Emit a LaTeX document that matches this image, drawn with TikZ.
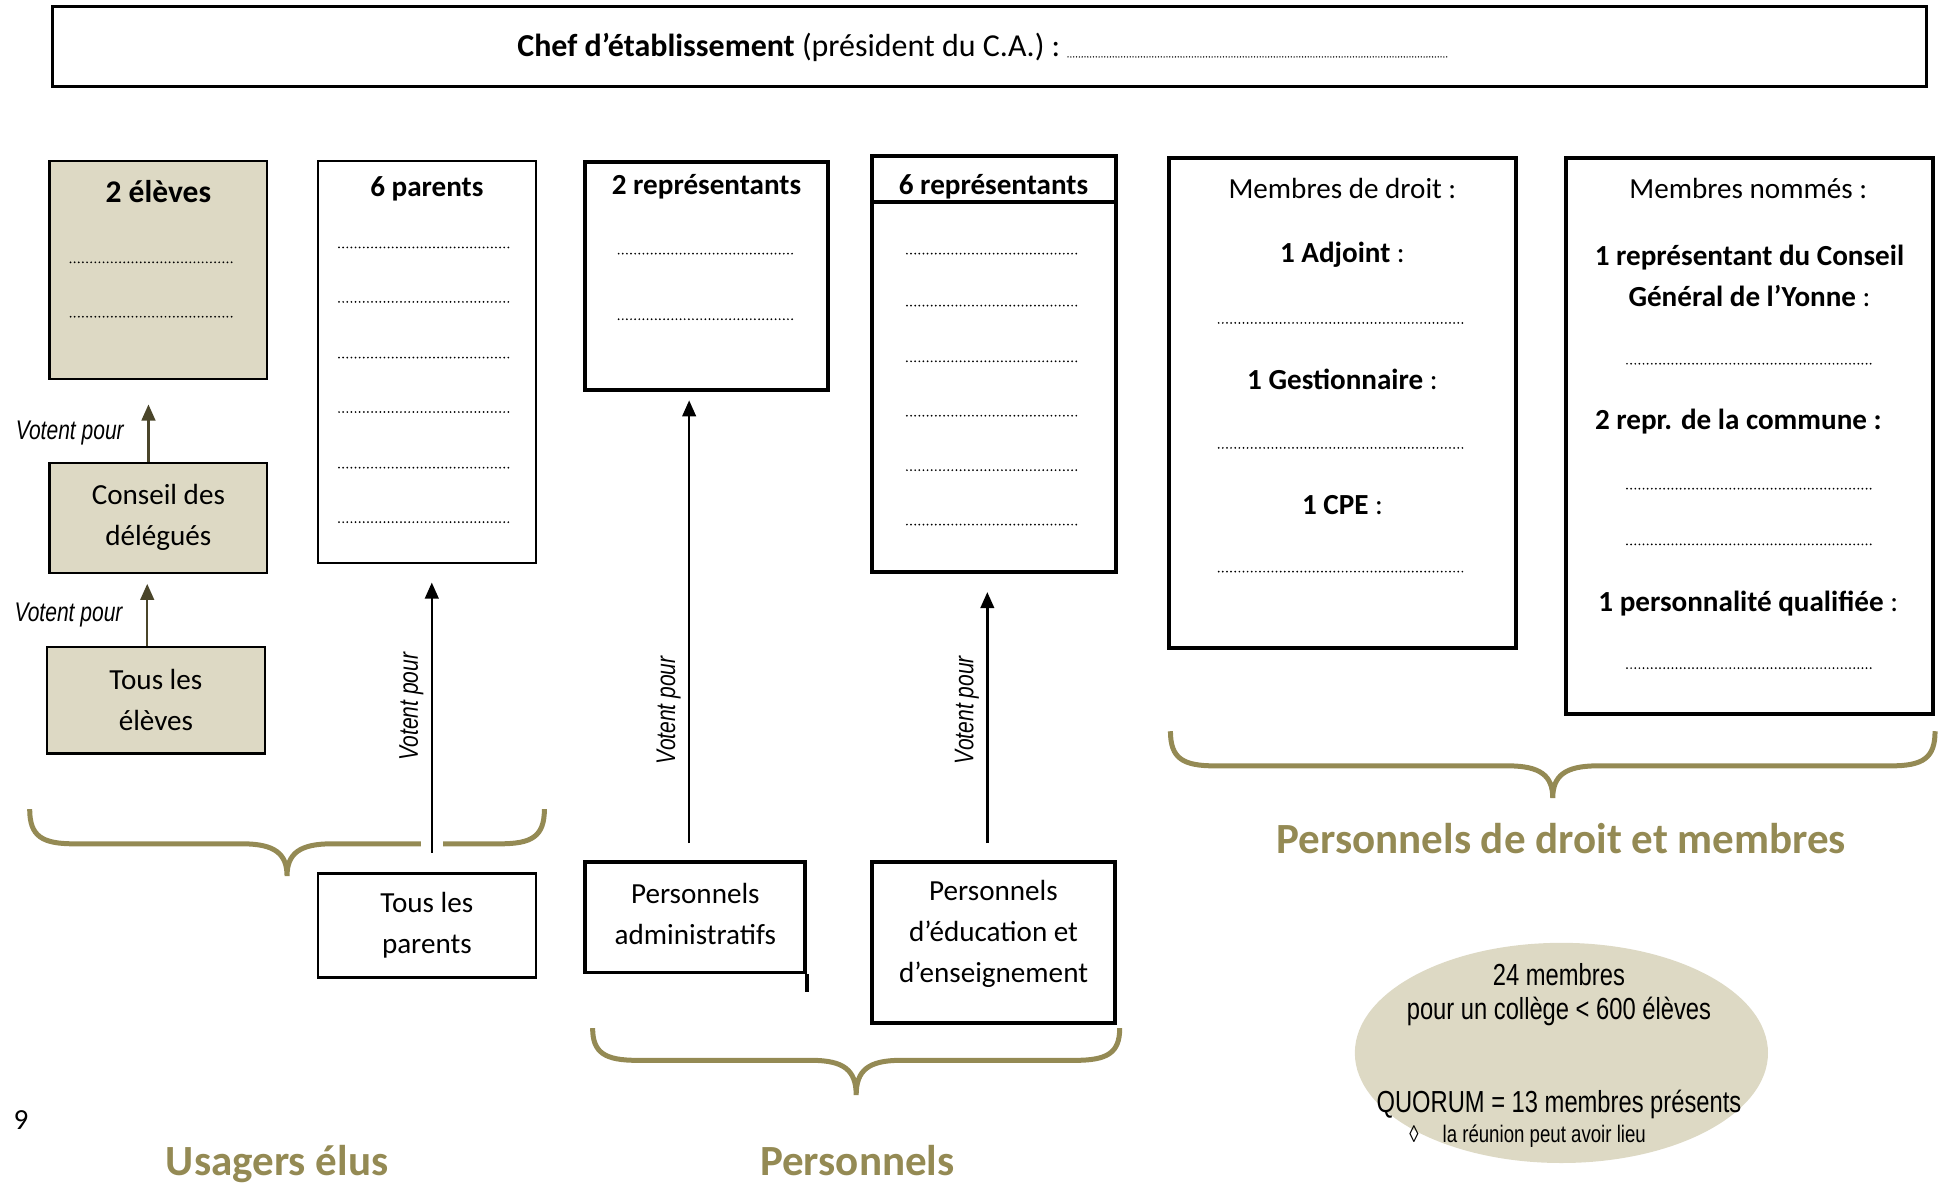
\documentclass[tikz,border=0pt]{standalone}
\usepackage{fontspec}
\setmainfont{Carlito}
\newfontfamily\narrowfont[FakeStretch=0.78]{Liberation Sans}
\usetikzlibrary{calc,arrows.meta,shapes.geometric}
\definecolor{wordtan}{HTML}{DDD9C4}
\definecolor{wordolive}{HTML}{948A54}
\definecolor{arrowolive}{HTML}{4A452A}
\newcommand{\boxfont}{\fontsize{13.4}{18.8}\selectfont}
\newcommand{\groupfont}{\fontsize{19.8}{23}\selectfont\bfseries}

\begin{document}
\begin{tikzpicture}[x=0.02cm,y=-0.02cm,
    every node/.style={font=\boxfont},
    hdr/.style={font=\boxfont\bfseries},
    thinbox/.style={draw,line width=1pt},
    tanbox/.style={thinbox,fill=wordtan},
    thickbox/.style={draw,line width=1.8pt},
    dots/.style={line width=0.9pt,line cap=round,dash pattern=on 0pt off 1.9pt},
    vote/.style={line width=1.1pt,-{Triangle[length=0.26cm,width=0.22cm]}},
    votelbl/.style={text=black,font=\narrowfont\itshape\fontsize{12.4}{14}\selectfont},
    brace/.style={wordolive,line width=2.3pt},
    grouplbl/.style={wordolive,font=\groupfont}]
    \useasboundingbox (0,0) rectangle (1568,958);

    % chef d'etablissement
    \node[draw,line width=1.3pt,minimum width=30.3cm,minimum height=1.3cm] (chefbox) at (799.5,37.5) {};
    \node[anchor=base west,font=\fontsize{14.7}{17}\selectfont] (chef) at (412,46) {\textbf{Chef d’établissement} (président du C.A.) :};
    \draw[dots,line width=0.7pt,dash pattern=on 0pt off 1.3pt] ($(chef.base east)+(0,0)$) -- ++(307,0);

    % eleves
    \node[tanbox,minimum width=3.52cm,minimum height=3.52cm] (eleves) at (128,218) {};
    \node[font=\fontsize{14.5}{17}\selectfont\bfseries] (elevestitle) at (128,155) {2 élèves};
    \foreach \y in {212,256} \draw[dots] (57,\y) -- (189,\y);
    \node[tanbox,minimum width=3.52cm,minimum height=1.78cm,align=center] (conseil) at (128,418.5) {Conseil des\\délégués};
    \node[tanbox,minimum width=3.52cm,minimum height=1.72cm,align=center] (touseleves) at (126,566) {Tous les\\élèves};
    \coordinate (v1) at ($(conseil.north)+(-8,0)$);
    \draw[vote,arrowolive] (v1) -- ($(v1 |- eleves.south)+(0,20)$) node[midway,left=7.5pt,votelbl] (lbl1) {Votent pour};
    \coordinate (v2) at ($(touseleves.north)+(-7,0)$);
    \draw[vote,arrowolive] (v2) -- ($(v2 |- conseil.south)+(0,8)$) node[midway,left=7.5pt,votelbl] (lbl2) {Votent pour};

    % parents
    \node[thinbox,minimum width=3.52cm,minimum height=6.5cm] (parents) at (345,292.5) {};
    \node[hdr] (parentstitle) at (345,153) {6 parents};
    \foreach \y in {200,244,289,333,378,422} \draw[dots] (274,\y) -- (414,\y);
    \node[thinbox,minimum width=3.52cm,minimum height=1.68cm,align=center] (tousparents) at (345,748) {Tous les\\parents};

    \draw[brace] (24,654) .. controls (24,676) and (34,682) .. (60,682) -- (196,682)
        .. controls (222,682) and (232,690) .. (232,708) .. controls (232,690) and (242,682) .. (268,682)
        -- (404,682) .. controls (430,682) and (440,676) .. (440,654);
    \fill[white] (340,672) rectangle (358,692);
    \coordinate (v3) at ($(tousparents.north)+(4,-16)$);
    \draw[vote] (v3) -- ($(v3 |- parents.south)+(0,15)$) node[pos=0.54,rotate=90,anchor=south,votelbl] (lbl3) {Votent pour};
    \node[grouplbl] (usagers) at (224,941) {Usagers élus};
    \node (pagenum) at (17,905) {9};

    % personnels
    \node[thickbox,minimum width=3.92cm,minimum height=3.68cm] (rep2) at (571,223) {};
    \node[hdr] (rep2title) at (571,151) {2 représentants};
    \foreach \y in {205,258} \draw[dots] (500,\y) -- (641,\y);
    \node[thickbox,minimum width=3.56cm,minimum height=1.78cm] (admin) at (562,741.5) {};
    \node[align=center] (admintxt) at (562,738.5) {Personnels\\administratifs};
    \draw[line width=1.8pt] (admin.south east) -- ++(0,14);
    \coordinate (v4) at ($(admin.north)+(-5,-14)$);
    \draw[vote] (v4) -- ($(v4 |- rep2.south)+(0,7)$) node[pos=0.3,rotate=90,anchor=south,votelbl] (lbl4) {Votent pour};

    \node[thickbox,minimum width=3.94cm,minimum height=6.72cm] (rep6) at (803.5,294) {};
    \draw[line width=1.8pt] ($(rep6.north west)+(0,39)$) -- ($(rep6.north east)+(0,39)$);
    \node[hdr] (rep6title) at (803,151) {6 représentants};
    \foreach \y in {205,247,292,336,380,424} \draw[dots] (733,\y) -- (873,\y);
    \node[thickbox,minimum width=3.92cm,minimum height=2.6cm] (educ) at (803,762) {};
    \node[align=center] (eductxt) at (803,755) {Personnels\\d’éducation et\\d’enseignement};
    \coordinate (v5) at ($(educ.north)+(-5,-14)$);
    \draw[vote] (v5) -- ($(v5 |- rep6.south)+(0,15)$) node[pos=0.53,rotate=90,anchor=south,votelbl] (lbl5) {Votent pour};

    \draw[brace] (479,831) .. controls (479,851) and (489,857) .. (515,857) -- (656,857)
        .. controls (682,857) and (692,865) .. (692,885) .. controls (692,865) and (702,857) .. (728,857)
        -- (869,857) .. controls (895,857) and (905,851) .. (905,831);
    \node[grouplbl] (perslbl) at (693,938) {Personnels};

    % membres de droit et nommes
    \node[thickbox,minimum width=5.6cm,minimum height=7.92cm] (droit) at (1085,326) {};
    \node (droithead) at (1085,152) {Membres de droit :};
    \node (adjoint) at (1085,206) {\textbf{1 Adjoint} :};
    \node (gest) at (1085,307) {\textbf{1 Gestionnaire} :};
    \node (cpe) at (1085,408) {\textbf{1 CPE} :};
    \foreach \y in {261,362,462} \draw[dots] (985,\y) -- (1185,\y);

    \node[thickbox,minimum width=5.92cm,minimum height=8.98cm] (nommes) at (1414,352.5) {};
    \node (nomhead) at (1413,152) {Membres nommés :};
    \node[align=center] (cg) at (1414,223) {\textbf{1 représentant du Conseil}\\\textbf{Général de l’Yonne} :};
    \node (commune) at (1405,341) {\textbf{2 repr. de la commune :}};
    \node (perso) at (1413,488) {\textbf{1 personnalité qualifiée} :};
    \foreach \y in {294,395,440,540} \draw[dots] (1315,\y) -- (1512,\y);

    \draw[brace] (946,591) .. controls (946,613) and (956,619) .. (982,619) -- (1219,619)
        .. controls (1245,619) and (1255,627) .. (1255,645) .. controls (1255,627) and (1265,619) .. (1291,619)
        -- (1528,619) .. controls (1554,619) and (1564,613) .. (1564,591);
    \node[grouplbl] (droitlbl) at (1262,678) {Personnels de droit et membres};

    % quorum
    \node[ellipse,fill=wordtan,minimum width=6.68cm,minimum height=3.56cm] (quorum) at (1262,851) {};
    \node[align=center,font=\narrowfont\fontsize{14}{15.4}\selectfont] (membres) at (1260,804) {24 membres\\pour un collège < 600 élèves};
    \node[font=\narrowfont\fontsize{14}{16}\selectfont] (quorumtxt) at (1260,893) {QUORUM = 13 membres présents};
    \node[anchor=west,font=\narrowfont\fontsize{11}{13}\selectfont] (reunion) at (1133,918) {◊\hspace{11pt}la réunion peut avoir lieu};
\end{tikzpicture}
\end{document}
